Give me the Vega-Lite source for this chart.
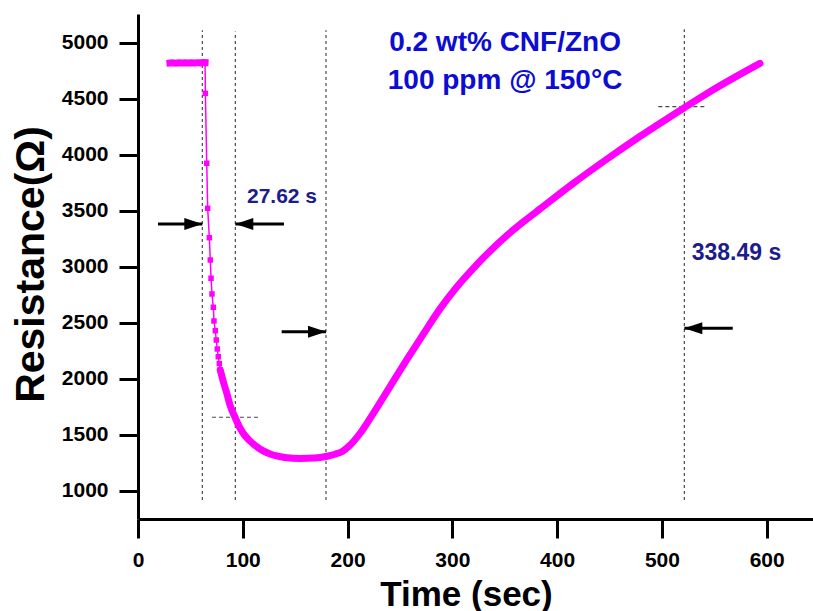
{
  "$schema": "https://vega.github.io/schema/vega-lite/v6.json",
  "width": 675,
  "height": 505,
  "autosize": "none",
  "padding": {"left": 138, "top": 14, "right": 0, "bottom": 92},
  "background": "white",
  "config": {"view": {"stroke": null}, "font": "Liberation Sans"},
  "datasets": {
    "curve": [
      {"t": 30.5, "R": 4818}, {"t": 33, "R": 4820}, {"t": 36, "R": 4817}, {"t": 39, "R": 4821}, {"t": 42, "R": 4819},
      {"t": 45, "R": 4820}, {"t": 48, "R": 4818}, {"t": 51, "R": 4821}, {"t": 54, "R": 4819}, {"t": 57, "R": 4822},
      {"t": 60, "R": 4820}, {"t": 62, "R": 4823}, {"t": 64, "R": 4822},
      {"t": 64.3, "R": 4548}, {"t": 65.6, "R": 3924}, {"t": 66.5, "R": 3522}, {"t": 68.1, "R": 3260}, {"t": 69.0, "R": 3061},
      {"t": 69.7, "R": 2898}, {"t": 70.6, "R": 2758}, {"t": 71.9, "R": 2639}, {"t": 72.5, "R": 2517}, {"t": 73.8, "R": 2430},
      {"t": 74.7, "R": 2347}, {"t": 75.7, "R": 2267}, {"t": 76.6, "R": 2198}, {"t": 77.6, "R": 2136}, {"t": 78.5, "R": 2080},
      {"t": 80.2, "R": 2017}, {"t": 82.5, "R": 1940}, {"t": 84.7, "R": 1874}, {"t": 88, "R": 1760}, {"t": 92.6, "R": 1658},
      {"t": 97.3, "R": 1562}, {"t": 102, "R": 1495}, {"t": 106.9, "R": 1446}, {"t": 116.4, "R": 1375}, {"t": 126, "R": 1330},
      {"t": 140.3, "R": 1299}, {"t": 154.6, "R": 1290}, {"t": 168.9, "R": 1294}, {"t": 179.4, "R": 1308}, {"t": 188, "R": 1328},
      {"t": 195, "R": 1352}, {"t": 202, "R": 1405}, {"t": 212, "R": 1515}, {"t": 224.6, "R": 1693}, {"t": 240.5, "R": 1931},
      {"t": 256.4, "R": 2169}, {"t": 272.3, "R": 2400}, {"t": 288.2, "R": 2625}, {"t": 304.2, "R": 2820}, {"t": 320, "R": 2987},
      {"t": 335.9, "R": 3140}, {"t": 351.9, "R": 3279}, {"t": 367.8, "R": 3402}, {"t": 383.7, "R": 3517}, {"t": 415.4, "R": 3745},
      {"t": 447.3, "R": 3960}, {"t": 478.9, "R": 4163}, {"t": 510.9, "R": 4357}, {"t": 521.4, "R": 4420}, {"t": 542.7, "R": 4545},
      {"t": 574.5, "R": 4717}, {"t": 593.6, "R": 4815}
    ],
    "vlines": [
      {"t": 61.4, "R": 920, "R2": 5110},
      {"t": 92.9, "R": 920, "R2": 5100},
      {"t": 179.4, "R": 920, "R2": 5110},
      {"t": 521.4, "R": 920, "R2": 5120}
    ],
    "hlines": [
      {"t": 70.6, "t2": 117.4, "R": 1658},
      {"t": 496.6, "t2": 543.3, "R": 4429}
    ],
    "arrows": [
      {"t": 61.4, "t2": 19.1, "R": 3382, "dir": "right"},
      {"t": 92.9, "t2": 139.3, "R": 3382, "dir": "left"},
      {"t": 179.4, "t2": 137.1, "R": 2421, "dir": "right"},
      {"t": 521.4, "t2": 567.6, "R": 2452, "dir": "left"}
    ],
    "label1": [{"t": 104, "R": 3570, "text": "27.62 s"}],
    "label2": [{"t": 528.4, "R": 3061, "text": "338.49 s"}],
    "heading": [
      {"t": 350.3, "R": 4926, "text": "0.2 wt% CNF/ZnO"},
      {"t": 350.3, "R": 4587, "text": "100 ppm @ 150°C"}
    ]
  },
  "encoding": {
    "x": {
      "field": "t", "type": "quantitative",
      "scale": {"domain": [0, 644.2], "nice": false, "zero": false},
      "axis": {
        "values": [0, 100, 200, 300, 400, 500, 600],
        "format": "d",
        "grid": false,
        "domainColor": "black", "domainWidth": 3,
        "tickColor": "black", "tickWidth": 3, "tickSize": 19,
        "labelFontSize": 21, "labelFontWeight": "bold", "labelColor": "black", "labelPadding": 11,
        "labelFlush": false,
        "title": "Time (sec)", "titleFontSize": 35, "titleFontWeight": "bold", "titleColor": "black",
        "titleX": 328, "titleY": 86, "titleAlign": "center", "titleBaseline": "alphabetic"
      }
    },
    "y": {
      "field": "R", "type": "quantitative",
      "scale": {"domain": [750, 5256], "nice": false, "zero": false},
      "axis": {
        "values": [1000, 1500, 2000, 2500, 3000, 3500, 4000, 4500, 5000],
        "format": "d",
        "grid": false,
        "domainColor": "black", "domainWidth": 3,
        "tickColor": "black", "tickWidth": 3, "tickSize": 19,
        "labelFontSize": 21, "labelFontWeight": "bold", "labelColor": "black", "labelPadding": 11,
        "labelFlush": false,
        "title": "Resistance(Ω)", "titleFontSize": 41, "titleFontWeight": "bold", "titleColor": "black",
        "titleAngle": -90, "titleX": -95, "titleY": 250, "titleAlign": "center", "titleBaseline": "alphabetic"
      }
    }
  },
  "layer": [
    {
      "data": {"name": "vlines"},
      "mark": {"type": "rule", "color": "#4a4a4a", "strokeWidth": 1.2, "strokeDash": [3, 3]},
      "encoding": {"y2": {"field": "R2"}}
    },
    {
      "data": {"name": "hlines"},
      "mark": {"type": "rule", "color": "#4a4a4a", "strokeWidth": 1.2, "strokeDash": [4, 3]},
      "encoding": {"x2": {"field": "t2"}}
    },
    {
      "data": {"name": "curve"},
      "transform": [{"filter": "datum.t >= 63.9 && datum.t <= 78.6"}],
      "mark": {"type": "line", "color": "#ff00ff", "strokeWidth": 1.5},
      "encoding": {}
    },
    {
      "data": {"name": "curve"},
      "transform": [{"filter": "datum.t > 64.1 && datum.t < 78.6"}],
      "mark": {"type": "point", "shape": "square", "filled": true, "size": 30, "color": "#ff00ff", "opacity": 1},
      "encoding": {}
    },
    {
      "data": {"name": "curve"},
      "transform": [{"filter": "datum.t <= 64.1"}],
      "mark": {"type": "line", "color": "#ff00ff", "strokeWidth": 7, "strokeCap": "square"},
      "encoding": {}
    },
    {
      "data": {"name": "curve"},
      "transform": [{"filter": "datum.t >= 78.4"}],
      "mark": {"type": "line", "color": "#ff00ff", "strokeWidth": 7, "strokeCap": "round", "interpolate": "monotone"},
      "encoding": {}
    },
    {
      "data": {"name": "arrows"},
      "mark": {"type": "rule", "color": "black", "strokeWidth": 3},
      "encoding": {"x2": {"field": "t2"}}
    },
    {
      "data": {"name": "arrows"},
      "mark": {"type": "point", "filled": true, "color": "black", "opacity": 1, "size": 1296, "strokeWidth": 0},
      "encoding": {
        "shape": {
          "field": "dir", "type": "nominal",
          "scale": {"domain": ["right", "left"], "range": ["M0,0L-1,-0.33L-1,0.33Z", "M0,0L1,-0.33L1,0.33Z"]},
          "legend": null
        }
      }
    },
    {
      "data": {"name": "label1"},
      "mark": {"type": "text", "font": "Liberation Sans", "fontWeight": "bold", "fontSize": 21, "color": "#1c1c8c", "align": "left", "baseline": "alphabetic"},
      "encoding": {"text": {"field": "text"}}
    },
    {
      "data": {"name": "label2"},
      "mark": {"type": "text", "font": "Liberation Sans", "fontWeight": "bold", "fontSize": 23, "color": "#1c1c8c", "align": "left", "baseline": "alphabetic"},
      "encoding": {"text": {"field": "text"}}
    },
    {
      "data": {"name": "heading"},
      "mark": {"type": "text", "font": "Liberation Sans", "fontWeight": "bold", "fontSize": 28, "color": "#0c0cd2", "align": "center", "baseline": "alphabetic"},
      "encoding": {"text": {"field": "text"}}
    },
    {
      "data": {"values": [{}]},
      "mark": {"type": "rule", "color": "black", "strokeWidth": 3},
      "encoding": {"y": {"datum": 5256}, "x": {"datum": 0}, "x2": {"datum": 644.2}}
    }
  ]
}
